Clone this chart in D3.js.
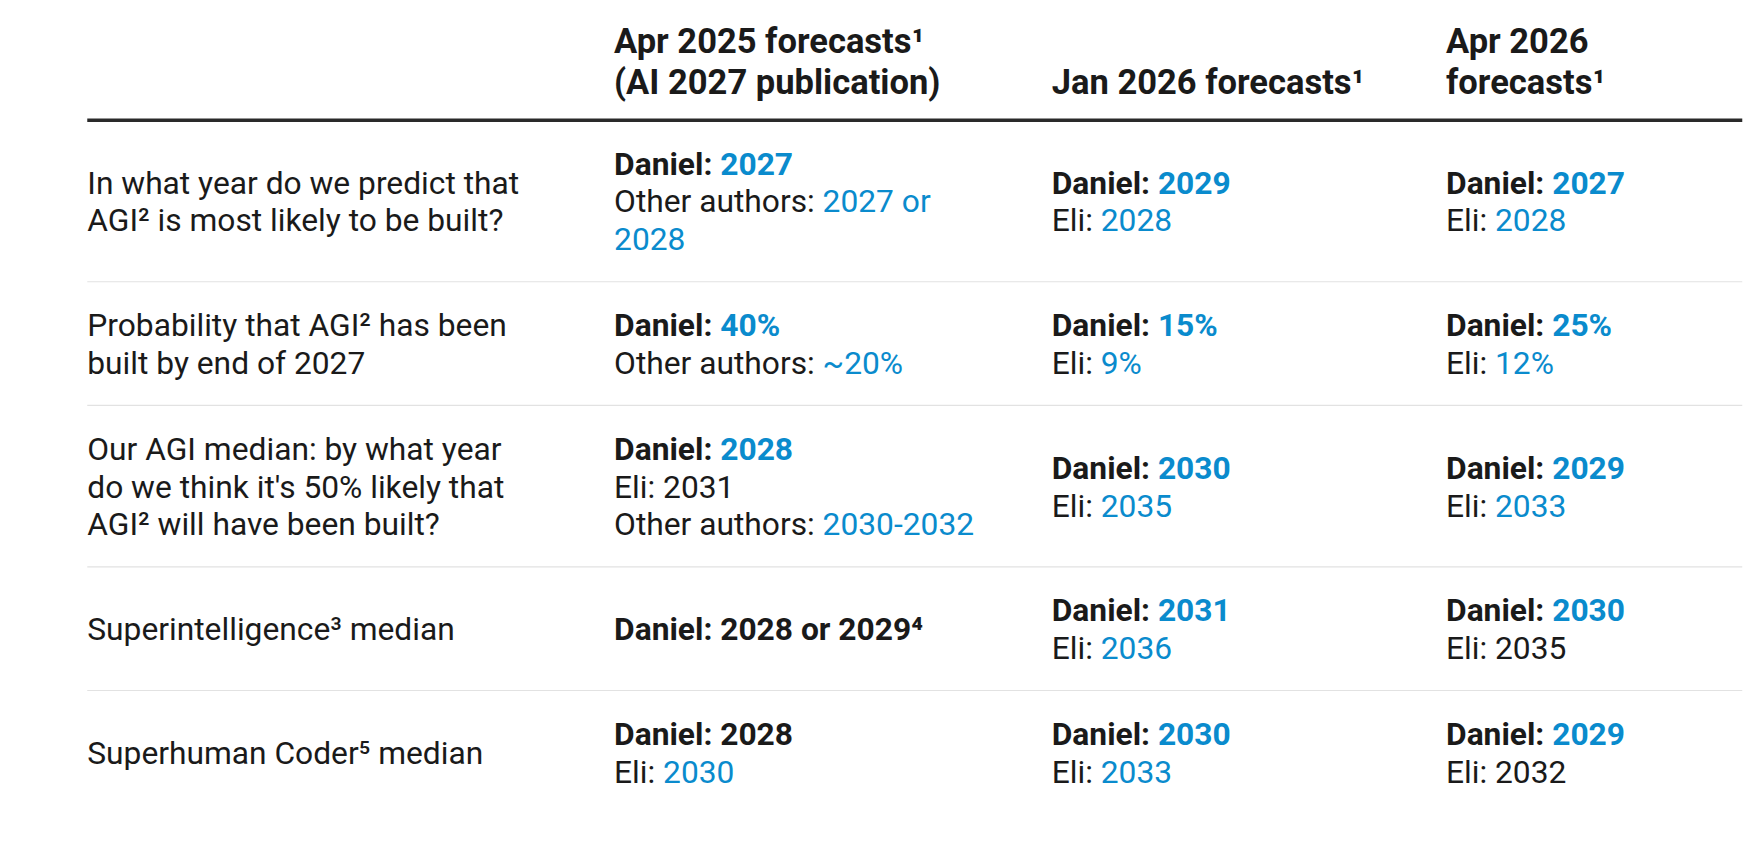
<!DOCTYPE html>
<html>
<head>
<meta charset="utf-8">
<script src="https://cdn.jsdelivr.net/npm/d3@7"></script>
<style>
  body { margin: 0; background: #fff; }
  text { font-family: Roboto, sans-serif; }
</style>
</head>
<body>
<svg id="chart" width="1746" height="852" viewBox="0 0 1567 765"></svg>
<script>
// column headers, one entry per line
var headers = [
  [],
  ['Apr 2025 forecasts¹', '(AI 2027 publication)'],
  ['Jan 2026 forecasts¹'],
  ['Apr 2026', 'forecasts¹']
];

var questions = [
  ['In what year do we predict that', 'AGI² is most likely to be built?'],
  ['Probability that AGI² has been', 'built by end of 2027'],
  ['Our AGI median: by what year', "do we think it's 50% likely that", 'AGI² will have been built?'],
  ['Superintelligence³ median'],
  ['Superhuman Coder⁵ median']
];

// segment: [text, bold, blue]
var apr2025 = [
  [[['Daniel: ', 1, 0], ['2027', 1, 1]], [['Other authors: ', 0, 0], ['2027 or', 0, 1]], [['2028', 0, 1]]],
  [[['Daniel: ', 1, 0], ['40%', 1, 1]], [['Other authors: ', 0, 0], ['~20%', 0, 1]]],
  [[['Daniel: ', 1, 0], ['2028', 1, 1]], [['Eli: 2031', 0, 0]], [['Other authors: ', 0, 0], ['2030-2032', 0, 1]]],
  [[['Daniel: 2028 or 2029⁴', 1, 0]]],
  [[['Daniel: 2028', 1, 0]], [['Eli: ', 0, 0], ['2030', 0, 1]]]
];

var jan2026 = [
  [[['Daniel: ', 1, 0], ['2029', 1, 1]], [['Eli: ', 0, 0], ['2028', 0, 1]]],
  [[['Daniel: ', 1, 0], ['15%', 1, 1]], [['Eli: ', 0, 0], ['9%', 0, 1]]],
  [[['Daniel: ', 1, 0], ['2030', 1, 1]], [['Eli: ', 0, 0], ['2035', 0, 1]]],
  [[['Daniel: ', 1, 0], ['2031', 1, 1]], [['Eli: ', 0, 0], ['2036', 0, 1]]],
  [[['Daniel: ', 1, 0], ['2030', 1, 1]], [['Eli: ', 0, 0], ['2033', 0, 1]]]
];

var apr2026 = [
  [[['Daniel: ', 1, 0], ['2027', 1, 1]], [['Eli: ', 0, 0], ['2028', 0, 1]]],
  [[['Daniel: ', 1, 0], ['25%', 1, 1]], [['Eli: ', 0, 0], ['12%', 0, 1]]],
  [[['Daniel: ', 1, 0], ['2029', 1, 1]], [['Eli: ', 0, 0], ['2033', 0, 1]]],
  [[['Daniel: ', 1, 0], ['2030', 1, 1]], [['Eli: 2035', 0, 0]]],
  [[['Daniel: ', 1, 0], ['2029', 1, 1]], [['Eli: 2032', 0, 0]]]
];

var BLUE = '#0a8bcd', INK = '#1a1a1a';
var colX = [78, 551, 944, 1298];
var lineH = 34, rowPad = 43, headTop = 108, tableRight = 1564;
var fs = 28.5;

var svg = d3.select('#chart');

// header
headers.forEach(function(lines, c) {
  lines.forEach(function(l, i) {
    svg.append('text')
      .attr('x', colX[c])
      .attr('y', headTop - 35 - (lines.length - 1 - i) * 37)
      .attr('dy', '0.36em')
      .attr('font-size', 31).attr('font-weight', 700).attr('fill', INK)
      .text(l);
  });
});

svg.append('line')
  .attr('x1', colX[0]).attr('x2', tableRight)
  .attr('y1', headTop).attr('y2', headTop)
  .attr('stroke', '#2a2a2a').attr('stroke-width', 3);

// row layout
var rows = questions.map(function(q, r) {
  var cells = [q.map(function(t) { return [[t, 0, 0]]; }), apr2025[r], jan2026[r], apr2026[r]];
  return { cells: cells, n: d3.max(cells, function(c) { return c.length; }) };
});
var y = headTop;
rows.forEach(function(row) {
  row.top = y;
  row.h = row.n * lineH + rowPad;
  y += row.h;
});

rows.forEach(function(row, r) {
  var mid = row.top + row.h / 2;
  if (r > 0) {
    svg.append('line')
      .attr('x1', colX[0]).attr('x2', tableRight)
      .attr('y1', row.top).attr('y2', row.top)
      .attr('stroke', '#e2e2e2').attr('stroke-width', 1);
  }
  row.cells.forEach(function(cell, c) {
    var y0 = mid - (cell.length - 1) * lineH / 2;
    cell.forEach(function(segs, i) {
      var t = svg.append('text')
        .attr('x', colX[c])
        .attr('y', y0 + i * lineH)
        .attr('dy', '0.36em')
        .attr('font-size', fs);
      t.selectAll('tspan').data(segs).join('tspan')
        .attr('font-weight', function(d) { return d[1] ? 700 : 400; })
        .attr('fill', function(d) { return d[2] ? BLUE : INK; })
        .attr('xml:space', 'preserve')
        .text(function(d) { return d[0]; });
    });
  });
});
</script>
</body>
</html>
